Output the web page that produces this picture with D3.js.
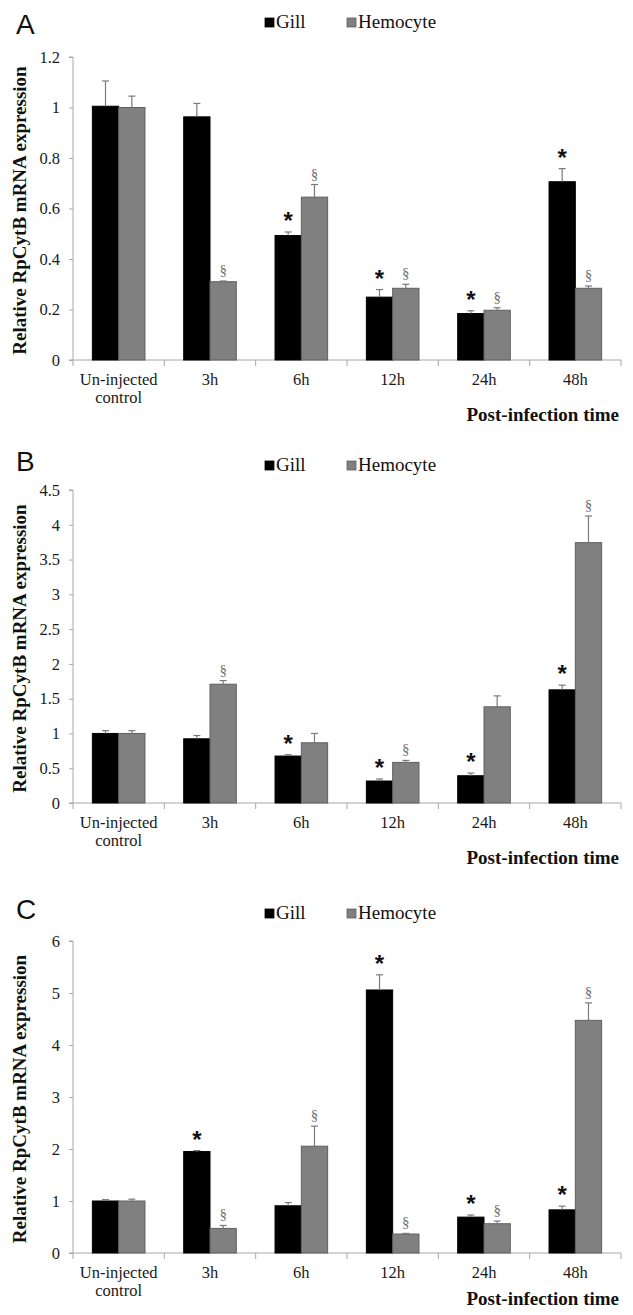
<!DOCTYPE html>
<html>
<head>
<meta charset="utf-8">
<script src="https://cdn.jsdelivr.net/npm/d3@7"></script>
<style>
  html, body { margin: 0; padding: 0; background: #fff; }
  svg { display: block; }
</style>
</head>
<body>
<svg id="chart" width="633" height="1315"></svg>
<script>
// ---------------- DATA ----------------
const categories = ["Un-injected control", "3h", "6h", "12h", "24h", "48h"];
const seriesNames = ["Gill", "Hemocyte"];

// Panel A
const gillA = [1.005, 0.963, 0.493, 0.249, 0.184, 0.706];
const gillErrA = [0.10, 0.053, 0.014, 0.030, 0.011, 0.052];
const hemoA = [1.0, 0.31, 0.645, 0.284, 0.197, 0.284];
const hemoErrA = [0.045, 0.003, 0.05, 0.016, 0.01, 0.009];
const starA = [0, 0, 1, 1, 1, 1];
const sectA = [0, 1, 1, 1, 1, 1];
const ticksA = [0, 0.2, 0.4, 0.6, 0.8, 1, 1.2];

// Panel B
const gillB = [1.0, 0.923, 0.675, 0.316, 0.392, 1.627];
const gillErrB = [0.04, 0.047, 0.019, 0.029, 0.038, 0.067];
const hemoB = [1.0, 1.708, 0.866, 0.584, 1.383, 3.743];
const hemoErrB = [0.04, 0.052, 0.134, 0.028, 0.157, 0.383];
const starB = [0, 0, 1, 1, 1, 1];
const sectB = [0, 1, 0, 1, 0, 1];
const ticksB = [0, 0.5, 1, 1.5, 2, 2.5, 3, 3.5, 4, 4.5];

// Panel C
const gillC = [1.0, 1.951, 0.908, 5.058, 0.69, 0.83];
const gillErrC = [0.026, 0.019, 0.062, 0.292, 0.04, 0.07];
const hemoC = [1.0, 0.473, 2.054, 0.365, 0.563, 4.474];
const hemoErrC = [0.035, 0.057, 0.386, 0.012, 0.051, 0.336];
const starC = [0, 1, 0, 1, 1, 1];
const sectC = [0, 1, 1, 1, 1, 1];
const ticksC = [0, 1, 2, 3, 4, 5, 6];

const yLabel = "Relative RpCytB mRNA expression";
const xLabel = "Post-infection time";

// ---------------- LAYOUT ----------------
const panels = [
  { letter: "A", gill: gillA, gErr: gillErrA, hemo: hemoA, hErr: hemoErrA, star: starA, sect: sectA, ticks: ticksA,
    top: 57, bottom: 360, letterY: 34, legendY: 28, xTitleY: 421 },
  { letter: "B", gill: gillB, gErr: gillErrB, hemo: hemoB, hErr: hemoErrB, star: starB, sect: sectB, ticks: ticksB,
    top: 490, bottom: 803, letterY: 471, legendY: 471, xTitleY: 864 },
  { letter: "C", gill: gillC, gErr: gillErrC, hemo: hemoC, hErr: hemoErrC, star: starC, sect: sectC, ticks: ticksC,
    top: 941, bottom: 1253, letterY: 919, legendY: 919, xTitleY: 1305 }
];

const left = 73, right = 621;
const serif = "'Liberation Serif', 'Times New Roman', serif";
const colors = { Gill: "#000000", Hemocyte: "#808080" };
const axisColor = "#a8a8a8";
const errColor = "#7a7a7a";

const svg = d3.select("#chart");

panels.forEach(p => {
  const g = svg.append("g");

  const x = d3.scaleBand().domain(categories).range([left, right])
    .paddingInner(0.424).paddingOuter(0.212);
  const xs = d3.scaleBand().domain(seriesNames).range([0, x.bandwidth()]);
  const y = d3.scaleLinear().domain([0, p.ticks[p.ticks.length - 1]]).range([p.bottom, p.top]);

  // panel letter
  g.append("text").attr("x", 16).attr("y", p.letterY)
    .attr("font-family", "'Liberation Sans', Arial, sans-serif")
    .attr("font-size", 28).attr("fill", "#111").text(p.letter);

  // legend
  const leg = g.append("g").attr("transform", `translate(265,${p.legendY})`);
  const legItems = [{ name: "Gill", dx: 0 }, { name: "Hemocyte", dx: 82 }];
  legItems.forEach(it => {
    leg.append("rect").attr("x", it.dx).attr("y", -10).attr("width", 9).attr("height", 9)
      .attr("fill", colors[it.name]).attr("stroke", it.name === "Hemocyte" ? "#5e5e5e" : "#000")
      .attr("stroke-width", 0.8);
    leg.append("text").attr("x", it.dx + 11).attr("y", 0)
      .attr("font-family", serif).attr("font-size", 19).attr("fill", "#111").text(it.name);
  });

  // y axis
  const yAxis = d3.axisLeft(y).tickValues(p.ticks).tickSize(4).tickPadding(9)
    .tickFormat(d => d3.format("")(+d.toFixed(2)));
  const ya = g.append("g").attr("transform", `translate(${left},0)`).call(yAxis);
  ya.select(".domain").attr("stroke", axisColor).attr("d", `M-4,${p.top}H0V${p.bottom}`);
  ya.selectAll(".tick line").attr("stroke", axisColor);
  ya.selectAll(".tick text").attr("font-family", serif).attr("font-size", 16.5).attr("fill", "#1a1a1a");

  // y title
  g.append("text")
    .attr("transform", `translate(26,${(p.top + p.bottom) / 2 + 2}) rotate(-90)`)
    .attr("text-anchor", "middle").attr("font-family", serif).attr("font-weight", "bold")
    .attr("font-size", 19).attr("fill", "#111").text(yLabel);

  // x axis
  const xAxis = d3.axisBottom(x).tickSize(0).tickPadding(0).tickFormat("");
  const xa = g.append("g").attr("transform", `translate(0,${p.bottom})`).call(xAxis);
  xa.select(".domain").attr("stroke", axisColor).attr("d", `M${left - 4},0H${right}`);
  // category boundary ticks
  const bounds = d3.range(categories.length + 1).map(i => left + i * x.step());
  xa.selectAll("line.bound").data(bounds).join("line").attr("class", "bound")
    .attr("x1", d => d).attr("x2", d => d).attr("y1", 0).attr("y2", 6)
    .attr("stroke", axisColor);
  // category labels
  const labs = g.append("g");
  categories.forEach(c => {
    const words = c === "Un-injected control" ? ["Un-injected", "control"] : [c];
    const t = labs.append("text").attr("text-anchor", "middle")
      .attr("font-family", serif).attr("font-size", 16.5).attr("fill", "#1a1a1a");
    words.forEach((w, i) => {
      t.append("tspan").attr("x", x(c) + x.bandwidth() / 2)
        .attr("y", p.bottom + 25 + i * 18).text(w);
    });
  });

  // x title
  g.append("text").attr("x", right - 2).attr("y", p.xTitleY).attr("text-anchor", "end")
    .attr("font-family", serif).attr("font-weight", "bold").attr("font-size", 19)
    .attr("fill", "#111").text(xLabel);

  // bars
  const rows = [];
  categories.forEach((c, i) => {
    rows.push({ cat: c, s: "Gill", v: p.gill[i], e: p.gErr[i], mark: p.star[i] ? "*" : "" });
    rows.push({ cat: c, s: "Hemocyte", v: p.hemo[i], e: p.hErr[i], mark: p.sect[i] ? "§" : "" });
  });

  const bw = xs.bandwidth();
  g.selectAll("rect.bar").data(rows).join("rect").attr("class", "bar")
    .attr("x", d => x(d.cat) + xs(d.s))
    .attr("y", d => y(d.v))
    .attr("width", bw)
    .attr("height", d => y(0) - y(d.v))
    .attr("fill", d => colors[d.s])
    .attr("stroke", d => d.s === "Hemocyte" ? "#606060" : "#000")
    .attr("stroke-width", 1);

  // error bars (upper only)
  const eb = g.selectAll("g.err").data(rows).join("g").attr("class", "err");
  eb.append("line")
    .attr("x1", d => x(d.cat) + xs(d.s) + bw / 2).attr("x2", d => x(d.cat) + xs(d.s) + bw / 2)
    .attr("y1", d => y(d.v)).attr("y2", d => y(d.v + d.e))
    .attr("stroke", errColor).attr("stroke-width", 1.2);
  eb.append("line")
    .attr("x1", d => x(d.cat) + xs(d.s) + bw / 2 - 3.5).attr("x2", d => x(d.cat) + xs(d.s) + bw / 2 + 3.5)
    .attr("y1", d => y(d.v + d.e)).attr("y2", d => y(d.v + d.e))
    .attr("stroke", errColor).attr("stroke-width", 1.2);

  // significance marks
  g.selectAll("text.mark").data(rows.filter(d => d.mark)).join("text").attr("class", "mark")
    .attr("x", d => x(d.cat) + xs(d.s) + bw / 2)
    .attr("y", d => d.mark === "*" ? y(d.v + d.e) - 3 : y(d.v + d.e) - 6)
    .attr("text-anchor", "middle")
    .attr("font-family", d => d.mark === "*" ? "'Liberation Sans', Arial, sans-serif" : serif)
    .attr("font-weight", d => d.mark === "*" ? "bold" : "normal")
    .attr("font-size", d => d.mark === "*" ? 24 : 15)
    .attr("fill", d => d.mark === "*" ? "#111" : "#707070")
    .text(d => d.mark);
});
</script>
</body>
</html>
